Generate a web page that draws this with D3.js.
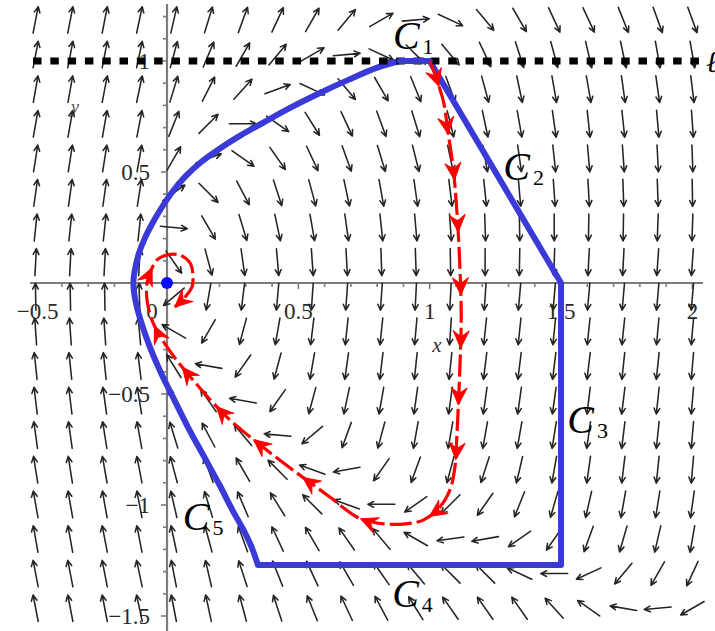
<!DOCTYPE html>
<html><head><meta charset="utf-8">
<script src="https://cdn.jsdelivr.net/npm/d3@7"></script>
<style>html,body{margin:0;padding:0;background:#fff;} svg{display:block}</style>
</head><body>
<svg id="chart" width="715" height="631"></svg>
<script>
// ---------- data ----------
const xTickValues = [-0.5, 0, 0.5, 1, 1.5, 2];
const xTickLabels = ["\u22120.5", "0", "0.5", "1", "1.5", "2"];
const yTickValues = [1, 0.5, -0.5, -1, -1.5];
const yTickLabels = ["1", "0.5", "\u22120.5", "\u22121", "\u22121.5"];

// direction-field grid (centres) and arrow directions in degrees (0 = right, 90 = up)
const fieldX = [-0.5, -0.368, -0.237, -0.105, 0.026, 0.158, 0.289, 0.421, 0.553, 0.684,
                0.816, 0.947, 1.079, 1.211, 1.342, 1.474, 1.605, 1.737, 1.868, 2.0];
const fieldY = [1.185, 1.029, 0.873, 0.717, 0.561, 0.406, 0.250, 0.094, -0.062, -0.218,
                -0.374, -0.530, -0.685, -0.841, -0.997, -1.153, -1.309, -1.465];
const fieldAngle = [
  [79,79,79,78, 77,73,70,65,60,50,30,5,-25,-50,-60,-65,-65,-68,-70,-70],
  [79,79,79,78, 75,67,60,50,30,5,-25,-45,-50,-65,-72,-75,-77,-78,-80,-80],
  [80,80,79,78, 73,63,48,20,-25,-50,-60,-68,-70,-75,-78,-80,-80,-82,-82,-83],
  [80,80,80,79, 68,45,0,-35,-58,-65,-70,-73,-76,-78,-80,-82,-84,-84,-85,-86],
  [81,81,81,80, 60,20,-35,-55,-65,-70,-73,-76,-78,-80,-82,-84,-85,-86,-87,-88],
  [82,82,82,81, 35,-45,-62,-72,-75,-78,-80,-82,-83,-84,-85,-86,-87,-88,-88,-89],
  [84,84,84,84, -5,-60,-73,-78,-80,-82,-84,-85,-86,-88,-89,-90,-91,-91,-92,-92],
  [87,87,87,87, -55,-75,-82,-85,-86,-87,-88,-88,-89,-90,-91,-92,-93,-93,-94,-94],
  [91,91,91,92, -140,-100,-97,-95,-94,-94,-94,-93,-93,-94,-95,-95,-95,-95,-95,-95],
  [94,94,94,95, 150,-120,-105,-100,-97,-96,-96,-95,-94,-96,-96,-96,-96,-96,-95,-95],
  [96,96,96,97, 122,170,-125,-105,-100,-98,-97,-96,-96,-97,-97,-97,-97,-96,-96,-95],
  [97,97,98,99, 112,125,170,-125,-105,-102,-100,-98,-98,-98,-98,-98,-97,-97,-96,-95],
  [98,98,99,100, 107,118,130,175,-140,-110,-105,-100,-100,-100,-100,-99,-98,-97,-96,-95],
  [99,99,100,101, 105,110,120,135,160,190,-125,-110,-105,-108,-103,-100,-98,-97,-96,-95],
  [100,100,100,101, 103,107,113,122,135,160,180,-145,-135,-125,-112,-106,-103,-100,-99,-98],
  [100,100,101,101, 102,105,110,115,120,125,130,150,188,190,-145,-125,-110,-106,-103,-100],
  [101,101,101,102, 101,103,108,112,115,120,125,130,135,135,155,180,-155,-130,-120,-115],
  [101,101,101,102, 101,102,105,108,112,115,118,122,125,125,125,132,145,170,185,-150]
];

// boundary: curved part (C5 and left part of C1), then straight segments C1, C2, C3, C4
const curveX = [0.346, 0.322, 0.290, 0.250, 0.200, 0.140, 0.080, 0.025, -0.025, -0.068, -0.100, -0.120, -0.128,
                -0.122, -0.108, -0.085, -0.055, -0.020, 0.020, 0.070, 0.130, 0.200, 0.280, 0.370, 0.470, 0.580, 0.690, 0.800, 0.887];
const curveY = [-1.270, -1.190, -1.110, -1.025, -0.910, -0.780, -0.650, -0.520, -0.400, -0.280, -0.170, -0.080, 0.0,
                0.060, 0.130, 0.200, 0.270, 0.340, 0.410, 0.480, 0.545, 0.605, 0.665, 0.725, 0.790, 0.855, 0.915, 0.970, 1.0];
const polyX = [0.887, 1.0, 1.5, 1.5, 0.346];
const polyY = [1.0, 1.0, 0.0, -1.270, -1.270];

// dotted line y = 1
const dashLineY = 1.0;
const dashLineX = [-0.51, 2.04];

// red trajectory
const trajX = [1.001, 1.051, 1.070, 1.089, 1.104, 1.115, 1.120, 1.115, 1.104, 1.096, 1.077, 1.039, 0.975,
               0.898, 0.799, 0.723, 0.620, 0.495, 0.365, 0.228, 0.099, 0.0, -0.053, -0.076, -0.076, -0.065,
               -0.038, 0.0, 0.049, 0.088, 0.099, 0.095, 0.069, 0.030];
const trajY = [1.0, 0.824, 0.676, 0.523, 0.315, 0.072, -0.150, -0.378, -0.676, -0.829, -0.932, -1.009, -1.068,
               -1.086, -1.081, -1.054, -0.964, -0.856, -0.739, -0.604, -0.437, -0.288, -0.180, -0.077, 0.0, 0.045,
               0.104, 0.126, 0.126, 0.090, 0.027, -0.018, -0.063, -0.108];
const arrowTipX = [1.045, 1.07, 1.09, 1.105, 1.118, 1.12, 1.112, 1.10, 1.001, 0.735, 0.518, 0.335, 0.183, 0.057, -0.053, -0.062, 0.030];
const arrowTipY = [0.89, 0.667, 0.464, 0.23, -0.054, -0.293, -0.55, -0.797, -1.054, -1.068, -0.878, -0.698, -0.559, -0.383, -0.198, 0.07, -0.108];

// equilibrium
const eqX = 0, eqY = 0;

// curve labels
const curveLabels = [
  {sub: "1", x: 0.86, y: 1.053},
  {sub: "2", x: 1.28, y: 0.465},
  {sub: "3", x: 1.524, y: -0.675},
  {sub: "4", x: 0.857, y: -1.46},
  {sub: "5", x: 0.06, y: -1.112}
];

// ---------- drawing ----------
const svg = d3.select("#chart");
const x = d3.scaleLinear().domain([-0.5, 2]).range([35.65, 692.4]);
const y = d3.scaleLinear().domain([-1.5, 1]).range([616, 61]);

const axisColor = "#7c7c7c";
const gAxes = svg.append("g");
gAxes.append("line").attr("x1", 30).attr("x2", 703).attr("y1", y(0)).attr("y2", y(0))
  .attr("stroke", axisColor).attr("stroke-width", 2.2);
gAxes.append("line").attr("x1", x(0)).attr("x2", x(0)).attr("y1", 4).attr("y2", 631)
  .attr("stroke", axisColor).attr("stroke-width", 2.2);
const isMajor = d => Math.abs(d * 2 - Math.round(d * 2)) < 1e-6;
const xMinor = d3.range(-5, 21).map(k => k / 10);
gAxes.selectAll(".xt").data(xMinor).enter().append("line")
  .attr("x1", d => x(d)).attr("x2", d => x(d))
  .attr("y1", y(0)).attr("y2", d => y(0) + (isMajor(d) ? 6 : 4))
  .attr("stroke", axisColor).attr("stroke-width", 1.6);
const yMinor = d3.range(-15, 13).map(k => k / 10);
gAxes.selectAll(".yt").data(yMinor).enter().append("line")
  .attr("y1", d => y(d)).attr("y2", d => y(d))
  .attr("x1", x(0)).attr("x2", d => x(0) - (isMajor(d) ? 6 : 4))
  .attr("stroke", axisColor).attr("stroke-width", 1.6);

const tickFont = "'Liberation Serif', 'Times New Roman', serif";
gAxes.selectAll(".xl").data(xTickValues).enter().append("text")
  .attr("x", d => x(d) + (d === 0 ? -15 : 0) + (d === -0.5 ? 2 : 0))
  .attr("y", 319)
  .attr("text-anchor", "middle")
  .attr("font-family", tickFont).attr("font-size", 23).attr("fill", "#2a2a2a")
  .text((d, i) => xTickLabels[i]);
gAxes.selectAll(".yl").data(yTickValues).enter().append("text")
  .attr("x", 150)
  .attr("y", d => y(d) + 8)
  .attr("text-anchor", "end")
  .attr("font-family", tickFont).attr("font-size", 23).attr("fill", "#2a2a2a")
  .text((d, i) => yTickLabels[i]);
gAxes.append("text").attr("x", 437).attr("y", 352).attr("text-anchor", "middle")
  .attr("font-family", tickFont).attr("font-style", "italic").attr("font-size", 21).attr("fill", "#333").text("x");
gAxes.append("text").attr("x", 75).attr("y", 113).attr("text-anchor", "middle")
  .attr("font-family", tickFont).attr("font-style", "italic").attr("font-size", 18).attr("fill", "#555").text("y");

// direction field
const gField = svg.append("g").attr("stroke", "#252525").attr("stroke-width", 1.55)
  .attr("fill", "none").attr("stroke-linecap", "round").attr("stroke-linejoin", "round");
const L = 27, H = 6.5, HA = 26 * Math.PI / 180;
fieldY.forEach((fy, j) => {
  fieldX.forEach((fx, i) => {
    const a = fieldAngle[j][i] * Math.PI / 180;
    const ux = Math.cos(a), uy = -Math.sin(a);
    const cx = x(fx), cy = y(fy);
    const x0 = cx - ux * L / 2, y0 = cy - uy * L / 2;
    const x1 = cx + ux * L / 2, y1 = cy + uy * L / 2;
    const back = Math.atan2(-uy, -ux);
    const b1x = x1 + H * Math.cos(back + HA), b1y = y1 + H * Math.sin(back + HA);
    const b2x = x1 + H * Math.cos(back - HA), b2y = y1 + H * Math.sin(back - HA);
    gField.append("path")
      .attr("d", `M${x0},${y0}L${x1},${y1}M${b1x},${b1y}L${x1},${y1}L${b2x},${b2y}`);
  });
});

// boundary
const blue = "#3a3ad8";
const curvePts = curveX.map((v, i) => [x(v), y(curveY[i])]);
const curvePath = d3.line().curve(d3.curveCatmullRom.alpha(0.5))(curvePts);
const polyPath = d3.line()(polyX.map((v, i) => [x(v), y(polyY[i])]));
svg.append("path").attr("d", curvePath + polyPath.replace(/^M/, "L"))
  .attr("fill", "none").attr("stroke", blue).attr("stroke-width", 6)
  .attr("stroke-linejoin", "round").attr("stroke-linecap", "round");

// dotted line
svg.append("line").attr("x1", x(dashLineX[0])).attr("x2", x(dashLineX[1]))
  .attr("y1", y(dashLineY)).attr("y2", y(dashLineY))
  .attr("stroke", "#000").attr("stroke-width", 7).attr("stroke-dasharray", "8.5 8.8");
svg.append("line").attr("x1", x(0.887)).attr("x2", x(1.0)).attr("y1", y(1)).attr("y2", y(1))
  .attr("stroke", blue).attr("stroke-width", 6).attr("stroke-linecap", "round");
svg.append("text").attr("x", 706).attr("y", 72)
  .attr("font-family", tickFont).attr("font-style", "italic").attr("font-size", 30).attr("fill", "#000").text("\u2113");

// red trajectory
const red = "#ff0000";
const trajPts = trajX.map((v, i) => [x(v), y(trajY[i])]);
const trajD = d3.line().curve(d3.curveCatmullRom.alpha(0.5))(trajPts);
const trajEl = svg.append("path").attr("d", trajD).attr("fill", "none").attr("stroke", red)
  .attr("stroke-width", 3.2).attr("stroke-dasharray", "22 5");
const node = trajEl.node();
const total = node.getTotalLength();
const samples = d3.range(0, total + 0.5, 1).map(l => node.getPointAtLength(Math.min(l, total)));
arrowTipX.forEach((tx, k) => {
  const px = x(tx), py = y(arrowTipY[k]);
  let best = 0, bd = Infinity;
  samples.forEach((s, idx) => { const d = (s.x - px) ** 2 + (s.y - py) ** 2; if (d < bd) { bd = d; best = idx; } });
  const i0 = Math.max(0, best - 4), i1 = Math.min(samples.length - 1, best + 4);
  const ang = Math.atan2(samples[i1].y - samples[i0].y, samples[i1].x - samples[i0].x) * 180 / Math.PI;
  svg.append("path").attr("d", "M0,0L-17,-8L-11,0L-17,8Z")
    .attr("transform", `translate(${samples[best].x},${samples[best].y}) rotate(${ang})`)
    .attr("fill", red).attr("stroke", red).attr("stroke-width", 1).attr("stroke-linejoin", "round");
});

// equilibrium point
svg.append("circle").attr("cx", x(eqX)).attr("cy", y(eqY)).attr("r", 6).attr("fill", "#0a0aff");

// curve labels C_k
const labFont = "'Liberation Serif', 'DejaVu Serif', serif";
curveLabels.forEach(c => {
  const t = svg.append("text").attr("x", x(c.x)).attr("y", y(c.y))
    .attr("font-family", labFont).attr("fill", "#000");
  t.append("tspan").attr("font-style", "italic").attr("font-size", 40).text("C");
  t.append("tspan").attr("font-size", 22).attr("dx", 3).attr("dy", 5).text(c.sub);
});
</script>
</body></html>
